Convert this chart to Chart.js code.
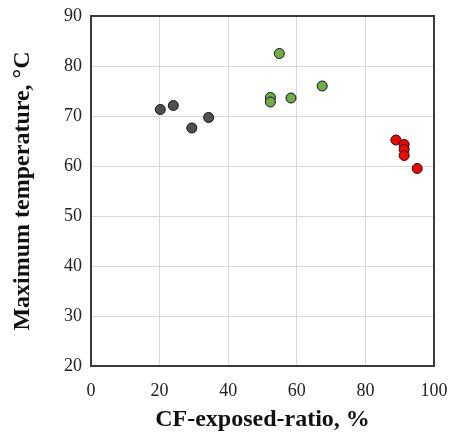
<!DOCTYPE html>
<html>
<head>
<meta charset="utf-8">
<script src="https://cdn.jsdelivr.net/npm/chart.js@4/dist/chart.umd.min.js"></script>
<style>
  html, body { margin: 0; padding: 0; background: #fff; }
  #wrap { width: 450px; height: 434px; }
</style>
</head>
<body>
<div id="wrap"><canvas id="scatterChart" width="450" height="434"></canvas></div>
<script>
// CF-exposed-ratio (%) vs maximum temperature (°C), three groups
const grayX = [20.2, 24.0, 29.4, 34.3];
const grayY = [71.3, 72.1, 67.6, 69.7];
const greenX = [54.9, 52.3, 52.3, 58.3, 67.4];
const greenY = [82.5, 73.7, 72.8, 73.6, 76.0];
const redX = [88.9, 91.3, 91.3, 91.3, 95.1];
const redY = [65.2, 64.3, 63.3, 62.1, 59.5];

const xTicks = [0, 20, 40, 60, 80, 100];
const yTicks = [20, 30, 40, 50, 60, 70, 80, 90];

const toPoints = (xs, ys) => xs.map((x, i) => ({ x: x, y: ys[i] }));

const serif = '"Liberation Serif", "Times New Roman", serif';

const frame = {
    id: 'frame',
    afterDraw(chart) {
        const a = chart.chartArea;
        const ctx = chart.ctx;
        ctx.save();
        ctx.strokeStyle = '#3a3a3a';
        ctx.lineWidth = 2;
        ctx.strokeRect(a.left, a.top, a.right - a.left, a.bottom - a.top);
        ctx.restore();
    },
};

const ctx = document.getElementById('scatterChart').getContext('2d');
new Chart(ctx, {
    type: 'scatter',
    data: {
        datasets: [
            { data: toPoints(grayX, grayY), backgroundColor: '#505050' },
            { data: toPoints(greenX, greenY), backgroundColor: '#70ad47' },
            { data: toPoints(redX, redY), backgroundColor: '#ff0000' },
        ],
    },
    options: {
        responsive: false,
        animation: false,
        layout: { padding: { top: 16, right: 16, left: 0, bottom: 0 } },
        elements: {
            point: { radius: 5, borderColor: '#111', borderWidth: 1 },
        },
        plugins: { legend: { display: false }, tooltip: { enabled: false } },
        scales: {
            x: {
                type: 'linear',
                min: 0,
                max: 100,
                afterBuildTicks: (scale) => { scale.ticks = xTicks.map(v => ({ value: v })); },
                afterFit: (scale) => {
                    scale.height = 68;
                    scale.paddingRight = 0;
                    scale.paddingLeft = 0;
                },
                grid: { color: '#d9d9d9', drawTicks: false },
                border: { display: false },
                ticks: { padding: 14, color: '#222', font: { family: serif, size: 18 } },
                title: {
                    display: true,
                    text: 'CF-exposed-ratio, %',
                    color: '#111',
                    padding: { top: 0, bottom: 0 },
                    font: { family: serif, size: 24, weight: 'bold' },
                },
            },
            y: {
                type: 'linear',
                min: 20,
                max: 90,
                afterBuildTicks: (scale) => { scale.ticks = yTicks.map(v => ({ value: v })); },
                afterFit: (scale) => {
                    scale.width = 91;
                    scale.paddingTop = 0;
                    scale.paddingBottom = 0;
                },
                grid: { color: '#d9d9d9', drawTicks: false },
                border: { display: false },
                ticks: { padding: 9, color: '#222', font: { family: serif, size: 18 } },
                title: {
                    display: true,
                    text: 'Maximum temperature, °C',
                    color: '#111',
                    padding: { top: 8 },
                    font: { family: serif, size: 24, weight: 'bold' },
                },
            },
        },
    },
    plugins: [frame],
});
</script>
</body>
</html>
